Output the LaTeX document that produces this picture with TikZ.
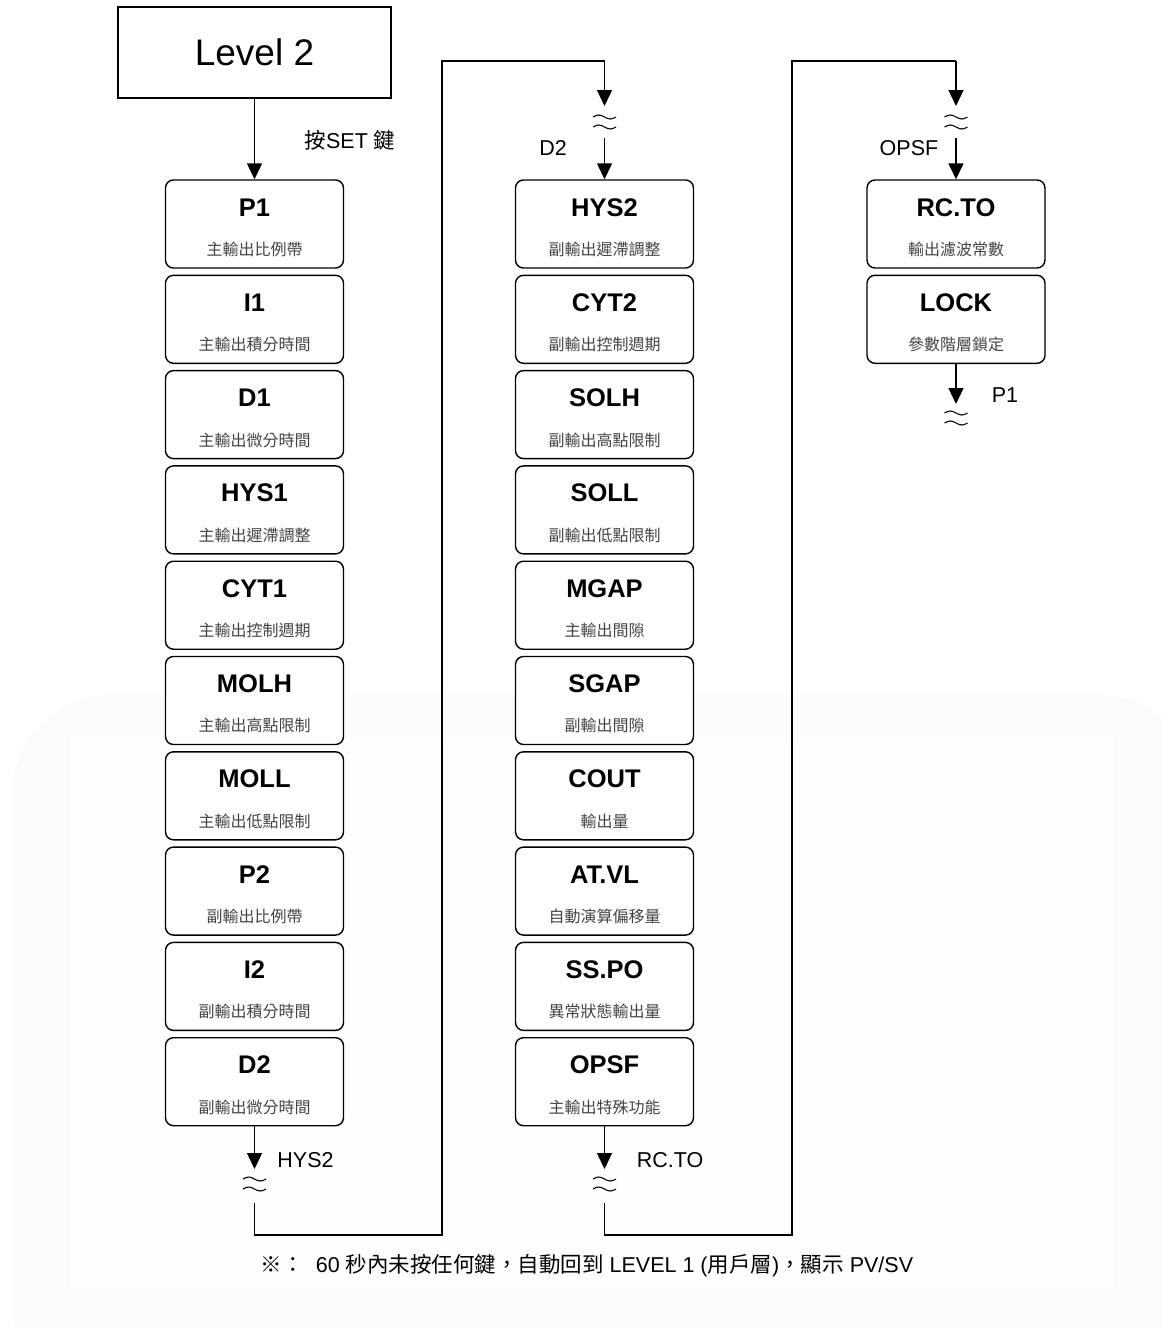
\documentclass[tikz,border=0pt]{standalone}
\usepackage{fontspec}
\setmainfont{Liberation Sans}
\newfontfamily\cjk{Noto Sans CJK TC}
\usetikzlibrary{arrows.meta}
\definecolor{bgout}{HTML}{FAFBFC}
\definecolor{bgin}{HTML}{FEFEFE}
\definecolor{subgray}{HTML}{444444}
\tikzset{
  stepbox/.style={draw, line width=1.4pt, rounded corners=8pt, fill=white,
    minimum width=178pt, minimum height=88pt, inner sep=0pt},
  ttl/.style={font=\fontsize{25.5}{25.5}\selectfont\bfseries, inner sep=0pt},
  sub/.style={font=\fontsize{16}{16}\cjk, text=subgray, inner sep=0pt},
  lbl/.style={font=\fontsize{21.5}{21.5}\selectfont, inner sep=0pt},
  conn/.style={line width=1.4pt},
  tip/.style={-{Triangle[width=15pt,length=16pt]}},
  brk/.pic={
    \draw[line width=1.1pt] (-11.5,-5) sin (-5.75,-7) cos (0,-5) sin (5.75,-3) cos (11.5,-5);
    \draw[line width=1.1pt] (-11.5,5) sin (-5.75,3) cos (0,5) sin (5.75,7) cos (11.5,5);
  }
}
\newcommand\paramstep[5]{%
  \node[stepbox] (#1) at (#2,#3) {};
  \node[ttl] (#1-t) at ([yshift=-28pt]#1.north) {#4};
  \node[sub] (#1-s) at ([yshift=-70pt]#1.north) {#5};
}
\begin{document}
\begin{tikzpicture}[x=1pt,y=-1pt]
\useasboundingbox (0,0) rectangle (1161,1328);
% faint background
\fill[bgout, rounded corners=100pt] (12,695) rectangle (1200,1400);
\fill[bgin] (70,738) rectangle (1113,1288);

% Level 2
\node[draw, line width=1.2pt, minimum width=273pt, minimum height=91pt,
  font=\fontsize{37}{37}\selectfont, fill=white] (lv) at (254.5,52.5) {Level 2};

\def\pitch{95.3}
% left column
\foreach \nm/\tt/\ss [count=\i from 0] in {
  P1/P1/主輸出比例帶, I1/I1/主輸出積分時間, D1/D1/主輸出微分時間,
  HYS1/HYS1/主輸出遲滯調整, CYT1/CYT1/主輸出控制週期, MOLH/MOLH/主輸出高點限制,
  MOLL/MOLL/主輸出低點限制, P2/P2/副輸出比例帶, I2/I2/副輸出積分時間,
  D2/D2/副輸出微分時間}{
  \paramstep{L\nm}{254.5}{224+\i*\pitch}{\tt}{\ss}
}
% middle column
\foreach \nm/\tt/\ss [count=\i from 0] in {
  HYS2/HYS2/副輸出遲滯調整, CYT2/CYT2/副輸出控制週期, SOLH/SOLH/副輸出高點限制,
  SOLL/SOLL/副輸出低點限制, MGAP/MGAP/主輸出間隙, SGAP/SGAP/副輸出間隙,
  COUT/COUT/輸出量, ATVL/AT.VL/自動演算偏移量, SSPO/SS.PO/異常狀態輸出量,
  OPSF/OPSF/主輸出特殊功能}{
  \paramstep{M\nm}{604.5}{224+\i*\pitch}{\tt}{\ss}
}
% right column
\paramstep{RRCTO}{956}{224}{RC.TO}{輸出濾波常數}
\paramstep{RLOCK}{956}{224+\pitch}{LOCK}{參數階層鎖定}

% Level 2 -> P1
\draw[conn,tip] (lv.south) -- (LP1.north);
\node[lbl] (setlbl) at (350,140) {{\cjk 按}SET {\cjk 鍵}};

% coordinates for left -> middle
\coordinate (a1) at (254.5,1169);
\coordinate (a2) at (254.5,1203);
\coordinate (a3) at (254.5,1235);
\coordinate (a4) at (442,1235);
\coordinate (a5) at (442,61);
\coordinate (a6) at (604.5,61);
\coordinate (a7) at (604.5,106);
\coordinate (a8) at (604.5,138);
\draw[conn,tip] (LD2.south) -- (a1);
\pic at (254.5,1184) {brk};
\draw[conn] (a2) -- (a3) -- (a4) -- (a5) -- (a6);
\draw[conn,tip] (a6) -- (a7);
\pic at (604.5,122) {brk};
\draw[conn,tip] (a8) -- (MHYS2.north);
\node[lbl] (lh) at (305.5,1160) {HYS2};
\node[lbl] (ld) at (553,148) {D2};

% middle -> right
\coordinate (b1) at (604.5,1169);
\coordinate (b2) at (604.5,1203);
\coordinate (b3) at (604.5,1235);
\coordinate (b4) at (792,1235);
\coordinate (b5) at (792,61);
\coordinate (b6) at (956,61);
\coordinate (b7) at (956,106);
\coordinate (b8) at (956,138);
\draw[conn,tip] (MOPSF.south) -- (b1);
\pic at (604.5,1184) {brk};
\draw[conn] (b2) -- (b3) -- (b4) -- (b5) -- (b6);
\draw[conn,tip] (b6) -- (b7);
\pic at (956,122) {brk};
\draw[conn,tip] (b8) -- (RRCTO.north);
\node[lbl] (lr) at (670,1160) {RC.TO};
\node[lbl] (lo) at (909,148) {OPSF};

% LOCK -> P1
\coordinate (c1) at (956,404);
\draw[conn,tip] (RLOCK.south) -- (c1);
\pic at (956,418) {brk};
\node[lbl] (lp) at (1005,395) {P1};

% footnote
\node[font=\fontsize{21.5}{21.5}\selectfont, inner sep=0pt] (note) at (587,1266)
  {{\cjk ※：}\ \ 60 {\cjk 秒內未按任何鍵，自動回到} LEVEL 1 ({\cjk 用戶層}){\cjk ，顯示} PV/SV};
\end{tikzpicture}
\end{document}
